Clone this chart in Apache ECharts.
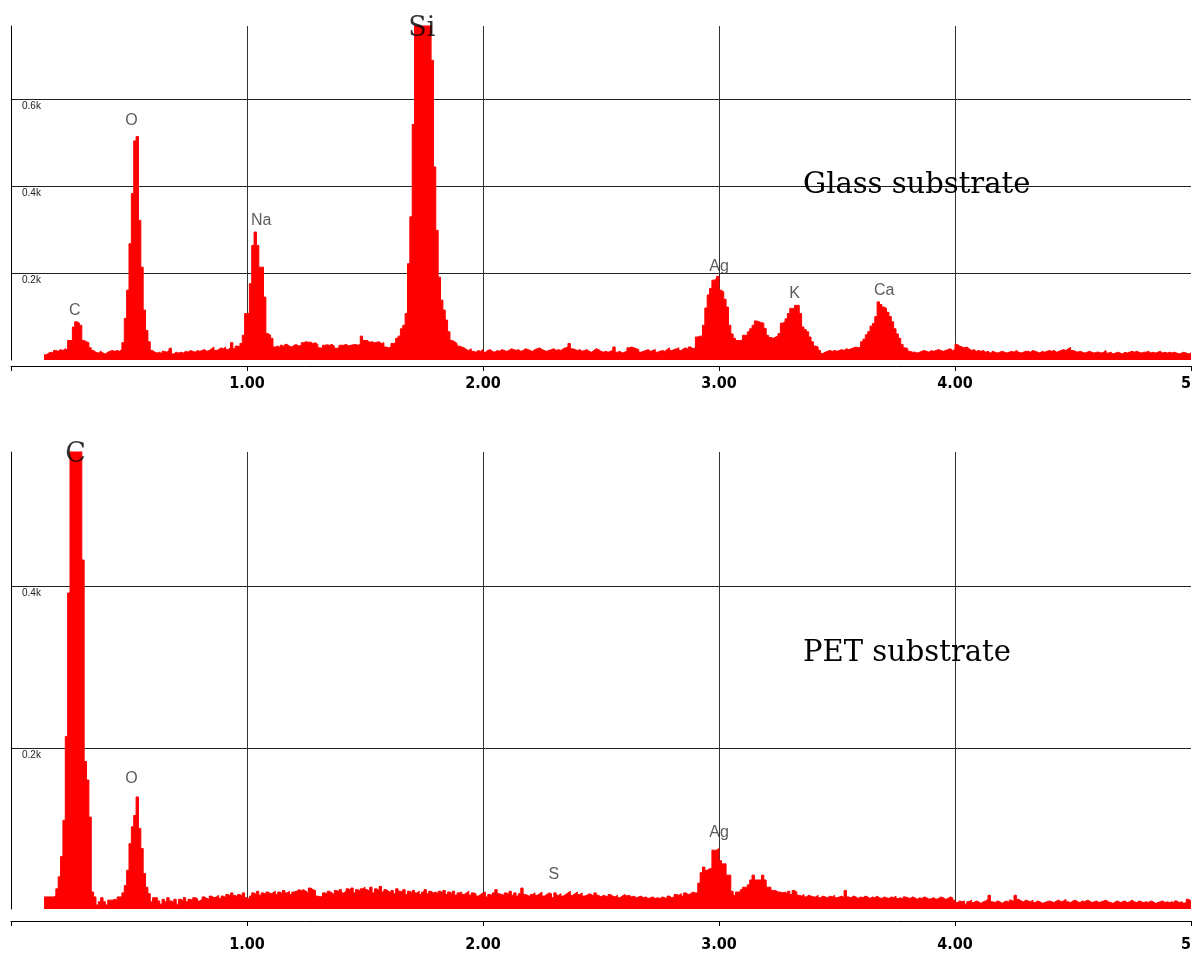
<!DOCTYPE html>
<html>
<head>
<meta charset="utf-8">
<script src="https://cdn.jsdelivr.net/npm/echarts@6/dist/echarts.min.js"></script>
<style>
html,body{margin:0;padding:0;background:#fff;}
#chart{width:1194px;height:953px;}
</style>
</head>
<body>
<div id="chart"></div>
<script>
// EDS spectra: channel energies start at 0.14 keV, 0.01 keV per channel
const energyStart = 0.14;
const channelWidth = 0.01;

// Glass substrate counts (0.14 ... 4.99 keV)
const glassCounts = [
  12, 16, 18, 16, 22, 20,
  24, 22, 26, 22, 45, 45, 76, 88, 85, 80,
  45, 42, 40, 28, 22, 18, 16, 20, 16, 14,
  18, 20, 22, 20, 22, 20, 24, 40, 96, 161,
  268, 384, 505, 515, 322, 214, 115, 68, 42, 22,
  18, 16, 18, 14, 20, 18, 22, 27, 14, 18,
  16, 18, 16, 20, 18, 22, 20, 18, 22, 20,
  22, 24, 20, 22, 26, 30, 22, 24, 28, 26,
  30, 24, 28, 40, 26, 32, 30, 38, 57, 107,
  107, 176, 264, 295, 264, 214, 214, 145, 61, 57,
  50, 30, 32, 28, 34, 30, 36, 32, 30, 34,
  36, 32, 34, 40, 42, 41, 41, 38, 40, 36,
  28, 27, 34, 35, 34, 36, 32, 27, 28, 34,
  34, 36, 33, 34, 35, 36, 34, 36, 55, 45,
  45, 41, 42, 40, 41, 42, 38, 40, 30, 28,
  30, 38, 40, 50, 55, 72, 80, 107, 222, 330,
  543, 820, 900, 950, 950, 900, 850, 800, 691, 445,
  299, 191, 138, 115, 92, 65, 45, 42, 38, 32,
  30, 28, 24, 22, 26, 20, 18, 22, 20, 24,
  18, 22, 24, 20, 18, 22, 20, 24, 22, 20,
  22, 26, 24, 22, 24, 20, 22, 26, 24, 22,
  20, 24, 26, 28, 24, 22, 20, 22, 24, 26,
  22, 24, 22, 26, 28, 30, 38, 26, 24, 22,
  24, 20, 22, 24, 20, 18, 22, 26, 24, 20,
  18, 20, 18, 20, 22, 30, 18, 20, 16, 18,
  20, 28, 30, 28, 26, 24, 18, 20, 22, 24,
  20, 22, 24, 18, 20, 22, 20, 24, 28, 22,
  24, 26, 28, 22, 26, 28, 24, 30, 26, 28,
  53, 55, 55, 80, 120, 150, 165, 184, 188, 193,
  161, 157, 140, 122, 80, 60, 50, 45, 45, 46,
  57, 57, 65, 72, 80, 90, 88, 86, 85, 73,
  57, 52, 50, 53, 55, 61, 85, 88, 95, 107,
  119, 119, 126, 126, 107, 76, 70, 65, 53, 42,
  32, 30, 22, 15, 18, 20, 22, 20, 22, 20,
  22, 24, 22, 26, 24, 26, 28, 30, 28, 30,
  42, 48, 58, 65, 78, 84, 100, 134, 128, 122,
  119, 110, 100, 88, 72, 60, 50, 36, 28, 26,
  20, 18, 18, 16, 18, 20, 22, 20, 18, 22,
  20, 22, 24, 22, 20, 22, 24, 26, 22, 24,
  36, 32, 30, 28, 30, 26, 22, 24, 20, 22,
  20, 22, 18, 20, 16, 20, 18, 16, 18, 20,
  18, 16, 18, 20, 18, 22, 18, 16, 18, 20,
  20, 18, 22, 20, 18, 16, 20, 18, 20, 22,
  20, 22, 18, 20, 22, 24, 22, 26, 29, 22,
  20, 18, 20, 18, 16, 18, 20, 18, 16, 18,
  18, 16, 18, 22, 16, 18, 14, 16, 18, 16,
  14, 18, 16, 18, 20, 18, 20, 18, 16, 18,
  18, 20, 16, 18, 16, 18, 20, 16, 18, 16,
  18, 16, 18, 16, 14, 16, 18, 16, 14, 16
];

// PET substrate counts (0.14 ... 4.99 keV)
const petCounts = [
  15, 15, 15, 15, 16, 25,
  40, 65, 110, 214, 392, 600, 640, 660, 650, 620,
  433, 183, 160, 114, 21, 15, 5, 9, 14, 9,
  5, 11, 11, 12, 11, 15, 15, 20, 29, 48,
  81, 102, 116, 139, 100, 75, 44, 27, 19, 9,
  14, 14, 10, 6, 12, 9, 14, 10, 8, 12,
  6, 12, 10, 14, 9, 12, 11, 14, 13, 10,
  12, 15, 13, 12, 16, 14, 15, 17, 13, 16,
  14, 18, 16, 20, 17, 15, 18, 16, 20, 14,
  12, 16, 20, 18, 22, 17, 20, 18, 21, 19,
  20, 22, 18, 21, 19, 23, 20, 22, 18, 21,
  22, 24, 23, 24, 22, 20, 26, 24, 23, 16,
  15, 16, 20, 19, 22, 20, 18, 23, 21, 24,
  20, 22, 25, 23, 26, 20, 24, 22, 25, 27,
  24, 22, 27, 20, 25, 23, 28, 21, 24, 22,
  20, 23, 19, 25, 22, 21, 24, 18, 22, 20,
  23, 20, 22, 18, 21, 24, 19, 22, 20, 21,
  19, 22, 20, 23, 18, 21, 19, 22, 17, 20,
  21, 18, 20, 22, 17, 20, 19, 16, 18, 20,
  21, 15, 18, 17, 20, 24, 19, 18, 17, 20,
  18, 22, 17, 20, 16, 19, 26, 18, 17, 15,
  18, 20, 17, 19, 21, 16, 18, 20, 19, 14,
  20, 17, 19, 16, 18, 20, 22, 17, 19, 21,
  18, 20, 16, 17, 19, 18, 16, 20, 17, 15,
  17, 16, 15, 18, 16, 15, 17, 14, 16, 18,
  16, 17, 15, 16, 14, 15, 16, 14, 15, 13,
  14, 15, 13, 14, 13, 15, 14, 13, 16, 14,
  15, 18, 17, 19, 16, 20, 18, 19, 21, 20,
  20, 32, 45, 52, 48, 50, 50, 73, 73, 75,
  60, 56, 56, 42, 42, 22, 17, 21, 21, 24,
  27, 27, 30, 36, 42, 36, 36, 36, 42, 36,
  27, 27, 23, 23, 21, 21, 20, 21, 19, 22,
  18, 23, 21, 17, 16, 18, 15, 17, 16, 15,
  15, 17, 14, 16, 15, 14, 16, 15, 17, 14,
  15, 16, 14, 23, 15, 14, 16, 15, 13, 15,
  14, 16, 15, 13, 15, 14, 16, 14, 13, 15,
  14, 13, 15, 14, 16, 13, 14, 12, 15, 14,
  13, 15, 14, 12, 14, 13, 15, 14, 12, 13,
  14, 12, 13, 15, 14, 12, 13, 15, 14, 11,
  8, 10, 9, 10, 6, 9, 11, 8, 10, 9,
  7, 9, 10, 12, 17, 9, 8, 10, 9, 7,
  9, 10, 8, 11, 9, 17, 12, 10, 9, 11,
  10, 9, 11, 8, 10, 9, 7, 8, 9, 10,
  9, 8, 10, 11, 9, 10, 12, 9, 8, 10,
  11, 9, 8, 10, 9, 11, 10, 8, 9, 10,
  8, 9, 10, 11, 9, 8, 7, 9, 10, 8,
  9, 10, 8, 9, 11, 9, 8, 10, 9, 8,
  9, 8, 10, 9, 7, 8, 9, 10, 8, 9,
  8, 9, 7, 10, 8, 9, 7, 8, 12, 10
];

// x-axis ticks (keV)
const xTicks = [1, 2, 3, 4, 5];
// y tick values that carry a label
const glassYTicks = [200, 400, 600];
const petYTicks = [200, 400];

// peak labels: [element, energy keV, label height (counts)]
const glassPeaks = [['C', 0.27, 115], ['O', 0.51, 551], ['Na', 1.06, 322], ['Ag', 3.0, 216], ['K', 3.32, 154], ['Ca', 3.70, 161]];
const glassMajor = [['Si', 1.741, 762]];
const petPeaks = [['O', 0.51, 162], ['S', 2.30, 43], ['Ag', 3.0, 95]];
const petMajor = [['C', 0.274, 563]];

const titles = ['Glass substrate', 'PET substrate'];

function toSeries(counts) {
  const pts = counts.map((c, i) => [+(energyStart + i * channelWidth).toFixed(2), c]);
  pts.push([5, counts[counts.length - 1]]);
  return pts;
}

const chart = echarts.init(document.getElementById('chart'), null, {renderer: 'canvas'});

function xAxisCfg(gridIndex, offset, margin) {
  return {
    type: 'value', gridIndex, min: 0, max: 5, interval: 1, offset,
    axisLine: {show: true, onZero: false, lineStyle: {color: '#000', width: 1}},
    axisTick: {show: true, length: 5, lineStyle: {color: '#000'}},
    splitLine: {show: true, showMinLine: false, showMaxLine: false, lineStyle: {color: '#333', width: 1}},
    axisLabel: {
      margin, fontSize: 16, fontWeight: 'bold', color: '#000',
      fontFamily: "'Liberation Sans Narrow','DejaVu Sans Condensed','Liberation Sans',sans-serif",
      alignMaxLabel: 'right',
      formatter: v => xTicks.indexOf(v) < 0 ? '' : (v === 5 ? '5' : v.toFixed(2))
    }
  };
}
function yAxisCfg(gridIndex, max, ticks) {
  return {
    type: 'value', gridIndex, min: 0, max, interval: 200,
    axisLine: {show: true, lineStyle: {color: '#000', width: 1}},
    axisTick: {show: false},
    splitLine: {show: true, showMinLine: false, showMaxLine: false, lineStyle: {color: '#222', width: 1}},
    axisLabel: {
      inside: true, margin: 11, align: 'left', verticalAlign: 'top', padding: [2, 0, 0, 0],
      fontSize: 10, color: '#222', fontFamily: "'Liberation Sans',Arial,sans-serif",
      showMaxLabel: false,
      formatter: v => ticks.indexOf(v) < 0 ? '' : (v / 1000) + 'k'
    }
  };
}
function labelSeries(idx, peaks, style) {
  return {
    type: 'scatter', xAxisIndex: idx, yAxisIndex: idx, clip: false, silent: true,
    symbolSize: 0, itemStyle: {color: 'transparent'}, z: 5,
    data: peaks.map(p => [p[1], p[2], p[0]]),
    label: Object.assign({show: true, position: 'inside', formatter: p => p.data[2]}, style)
  };
}
const smallStyle = {fontSize: 16, color: '#333', fontFamily: "'Liberation Sans',Arial,sans-serif"};
const bigStyle = {fontSize: 27, color: '#000', fontFamily: "'DejaVu Serif',serif"};

chart.setOption({
  animation: false,
  backgroundColor: '#fff',
  title: titles.map((t, i) => ({
    text: t, left: 803, top: i === 0 ? 171 : 639, padding: 0,
    textStyle: {fontFamily: "'DejaVu Serif',serif", fontSize: 29, fontWeight: 'normal', color: '#000'}
  })),
  grid: [
    {left: 11, right: 1, top: 26, height: 334},
    {left: 11, right: 1, top: 452, height: 457}
  ],
  xAxis: [xAxisCfg(0, 6, 10), xAxisCfg(1, 12, 16)],
  yAxis: [yAxisCfg(0, 770, glassYTicks), yAxisCfg(1, 567, petYTicks)],
  series: [
    {
      type: 'line', xAxisIndex: 0, yAxisIndex: 0, step: 'end', symbol: 'none', silent: true,
      data: toSeries(glassCounts),
      lineStyle: {color: '#ff0000', width: 1}, areaStyle: {color: '#ff0000', opacity: 1}
    },
    {
      type: 'line', xAxisIndex: 1, yAxisIndex: 1, step: 'end', symbol: 'none', silent: true,
      data: toSeries(petCounts),
      lineStyle: {color: '#ff0000', width: 1}, areaStyle: {color: '#ff0000', opacity: 1}
    },
    labelSeries(0, glassPeaks, smallStyle),
    labelSeries(0, glassMajor, bigStyle),
    labelSeries(1, petPeaks, smallStyle),
    labelSeries(1, petMajor, bigStyle)
  ]
});
</script>
</body>
</html>
